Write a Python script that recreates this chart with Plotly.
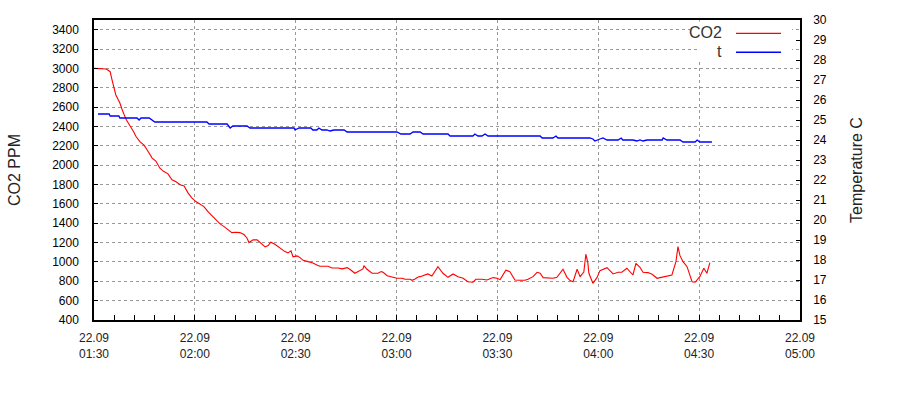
import pandas as pd
import plotly.graph_objects as go

BASE = "2014-09-22 01:30"

# CO2 series: minutes after 01:30 and ppm values
co2_min = [0, 3.6, 4.2, 4.8, 5.4, 5.9, 6.5, 7.1, 7.7, 8.3, 8.9, 9.5, 10.1, 10.7, 11.3, 11.9, 12.5,
           13.7, 14.9, 16.1, 17.3, 18.4, 19.6, 20.8, 22.0, 23.2, 24.4, 25.6, 26.8, 28.0, 29.1,
           30.3, 31.5, 32.7, 33.9, 35.1, 36.3, 37.5, 38.7, 39.9, 41.0, 42.2, 43.4, 44.6, 45.5,
           46.1, 47.3, 48.5, 50.0, 50.9, 51.8, 52.6, 53.8, 54.7, 55.9, 56.8, 57.7, 58.6, 59.2,
           60.4, 61.3, 62.2, 63.7, 65.1, 66.3, 67.2, 69.6, 70.8, 72.6, 73.8, 75.3, 76.1, 77.6,
           79.1, 80.0, 80.3, 81.2, 82.7, 84.5, 85.4, 86.0, 87.2, 88.6, 90.1, 91.6, 92.5, 94.0,
           94.6, 95.5, 96.4, 97.0, 98.5, 99.3, 100.5, 102.3, 103.8, 105.3, 106.8, 108.3, 109.8,
           111.2, 112.7, 113.6, 115.4, 116.9, 118.7, 119.9, 120.8, 121.7, 122.5, 123.7, 125.2,
           126.7, 128.2, 129.1, 130.6, 131.8, 132.7, 133.6, 135.0, 136.5, 137.7, 138.6, 139.5,
           140.7, 141.6, 142.5, 143.7, 144.6, 145.4, 145.7, 146.3, 146.9, 147.2, 148.4, 149.6,
           150.5, 152.6, 154.4, 155.9, 157.0, 158.5, 160.3, 161.2, 162.4, 163.3, 164.8, 166.0,
           167.5, 168.4, 170.4, 171.9, 173.1, 173.7, 174.3, 175.2, 176.4, 177.3, 177.9, 178.8,
           180.2, 181.4, 182.3, 183.2]
co2_ppm = [3000, 2993, 2980, 2966, 2876, 2797, 2725, 2683, 2642, 2580, 2521, 2476, 2441, 2400, 2373,
           2338, 2296, 2241, 2207, 2141, 2073, 2042, 1969, 1934, 1910, 1848, 1828, 1797, 1786,
           1711, 1662, 1624, 1600, 1572, 1520, 1476, 1427, 1393, 1365, 1331, 1303, 1307, 1303,
           1283, 1248, 1200, 1228, 1228, 1176, 1155, 1169, 1204, 1183, 1158, 1131, 1107, 1093,
           1114, 1052, 1062, 1045, 1017, 1003, 990, 969, 955, 955, 938, 938, 928, 941, 924, 883,
           907, 928, 962, 924, 883, 883, 900, 893, 858, 841, 831, 831, 821, 821, 810, 824, 845,
           848, 865, 876, 855, 951, 883, 841, 876, 848, 831, 796, 790, 821, 821, 814, 838, 831,
           817, 865, 914, 900, 814, 810, 810, 821, 848, 893, 883, 838, 831, 831, 841, 883, 924,
           841, 807, 796, 924, 848, 879, 895, 1080, 990, 883, 779, 838, 910, 941, 876, 893, 893,
           935, 865, 986, 945, 893, 890, 872, 831, 838, 858, 865, 1003, 1158, 1065, 1003, 951,
           848, 796, 790, 848, 935, 883, 993]

# Temperature series: minutes after 01:30 and degrees C
t_min = [1.2, 4.5, 4.8, 7.4, 7.7, 12.8, 13.4, 14.0, 16.4, 17.3, 18.1, 33.6, 34.2, 39.6, 40.5,
         41.3, 45.5, 46.4, 59.5, 59.8, 61.0, 64.5, 65.1, 66.3, 66.9, 67.8, 69.3, 70.2, 71.4,
         74.4, 75.3, 90.1, 91.3, 94.0, 94.9, 97.0, 97.9, 105.3, 105.9, 112.7, 113.3, 114.2,
         115.4, 116.3, 117.2, 132.7, 133.3, 136.5, 137.4, 138.0, 147.5, 148.4, 149.0, 150.5,
         151.4, 152.6, 155.9, 156.8, 157.3, 160.3, 161.5, 162.4, 163.3, 164.5, 169.0, 169.3,
         170.4, 174.3, 175.2, 178.8, 179.4, 180.2, 183.8]
t_val = [25.3, 25.3, 25.2, 25.2, 25.1, 25.1, 25.0, 25.1, 25.1, 25.0, 24.9, 24.9, 24.8, 24.8, 24.6,
         24.7, 24.7, 24.6, 24.6, 24.5, 24.6, 24.6, 24.5, 24.5, 24.6, 24.5, 24.5, 24.45, 24.5,
         24.5, 24.4, 24.4, 24.3, 24.3, 24.4, 24.4, 24.3, 24.3, 24.2, 24.2, 24.3, 24.2, 24.2,
         24.3, 24.2, 24.2, 24.1, 24.1, 24.2, 24.1, 24.1, 24.05, 23.95, 24.05, 24.1, 24.0, 24.0,
         24.1, 24.0, 24.0, 23.95, 24.0, 23.95, 24.0, 24.0, 24.1, 24.0, 24.0, 23.9, 23.9, 24.0,
         23.9, 23.9]

left_ticks = list(range(400, 3401, 200))
right_ticks = list(range(15, 31))

base = pd.Timestamp(BASE)
co2_x = base + pd.to_timedelta(co2_min, unit="m")
t_x = base + pd.to_timedelta(t_min, unit="m")

FONT = "Liberation Sans, Arial, sans-serif"

fig = go.Figure()
fig.add_trace(go.Scatter(x=co2_x, y=co2_ppm, mode="lines", name="CO2",
                         line=dict(color="#ff0000", width=1.1), yaxis="y"))
fig.add_trace(go.Scatter(x=t_x, y=t_val, mode="lines", name="t",
                         line=dict(color="#0000ff", width=1.3), yaxis="y2"))

L, R, T, B = 94, 100, 20, 80
W, H = 900, 400
pw, ph = W - L - R, H - T - B


def px(xp):
    return (xp - L) / pw


def py(yp):
    return (H - B - yp) / ph


fig.update_layout(
    width=W, height=H,
    margin=dict(l=L, r=R, t=T, b=B, pad=0),
    paper_bgcolor="white", plot_bgcolor="white",
    showlegend=False,
    font=dict(family=FONT, size=12, color="#000"),
    xaxis=dict(
        type="date",
        range=[base, base + pd.Timedelta(minutes=210)],
        dtick=1800000, tick0=BASE,
        tickformat="%d.%m<br>%H:%M",
        ticks="inside", ticklen=5, tickcolor="#000",
        showline=True, linecolor="#000", linewidth=1.5, mirror=True,
        showgrid=True, gridcolor="#999", griddash="dot", gridwidth=1,
        minor=dict(dtick=360000, ticks="inside", ticklen=5, tickcolor="#000", showgrid=False),
        tickfont=dict(size=12, color="#222"),
        ticklabelstandoff=6,
        zeroline=False,
        fixedrange=True,
    ),
    yaxis=dict(
        range=[400, 3500],
        tickvals=left_ticks,
        ticks="inside", ticklen=4, tickcolor="#000",
        showline=True, linecolor="#000", linewidth=1.5,
        showgrid=True, gridcolor="#999", griddash="dot", gridwidth=1,
        zeroline=False,
        ticklabelstandoff=11,
        title=dict(text="CO2 PPM", font=dict(size=16, color="#222"), standoff=28),
        tickfont=dict(size=12, color="#000"),
    ),
    yaxis2=dict(
        range=[15, 30], overlaying="y", side="right",
        tickvals=right_ticks,
        ticks="inside", ticklen=4, tickcolor="#000",
        showline=True, linecolor="#000", linewidth=1.5,
        showgrid=False, zeroline=False,
        ticklabelstandoff=9,
        title=dict(text="Temperature C", font=dict(size=16, color="#222"), standoff=25),
        tickfont=dict(size=12, color="#000"),
    ),
)

# legend drawn manually (text left of sample line, as in the reference)
fig.add_shape(type="rect", xref="paper", yref="paper",
              x0=px(690), x1=px(792), y0=py(40), y1=py(21.5),
              fillcolor="white", line=dict(width=0), layer="above")
fig.add_shape(type="rect", xref="paper", yref="paper",
              x0=px(698), x1=px(792), y0=py(61), y1=py(40),
              fillcolor="white", line=dict(width=0), layer="above")
fig.add_shape(type="line", xref="paper", yref="paper",
              x0=px(736), x1=px(781), y0=py(33.3), y1=py(33.3),
              line=dict(color="#ff0000", width=1.2), layer="above")
fig.add_shape(type="line", xref="paper", yref="paper",
              x0=px(736), x1=px(781), y0=py(52.3), y1=py(52.3),
              line=dict(color="#0000ff", width=1.4), layer="above")
fig.add_annotation(text="CO2", xref="paper", yref="paper", x=px(724), y=py(32),
                   xanchor="right", yanchor="middle", showarrow=False,
                   font=dict(size=16, color="#333", family=FONT))
fig.add_annotation(text="t", xref="paper", yref="paper", x=px(724), y=py(51),
                   xanchor="right", yanchor="middle", showarrow=False,
                   font=dict(size=16, color="#333", family=FONT))

fig.write_html("out.html")
